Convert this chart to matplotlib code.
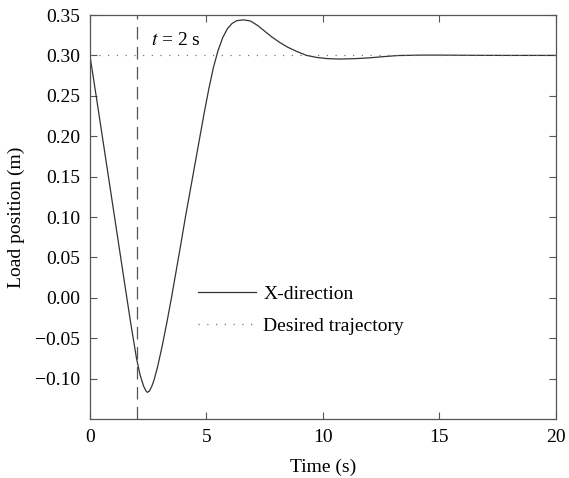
"""Load position response vs. time, redrawn from a reference figure."""

import matplotlib
matplotlib.use("Agg")
import matplotlib.pyplot as plt
from matplotlib.ticker import FuncFormatter

# values
time_s = [0.0, 0.3, 0.6, 0.9, 1.2, 1.5, 1.75, 2.0, 2.15, 2.3, 2.4, 2.47,
          2.55, 2.65, 2.75, 2.9, 3.1, 3.3, 3.5, 3.7, 3.9, 4.1, 4.3, 4.5,
          4.7, 4.9, 5.1, 5.3, 5.5, 5.7, 5.9, 6.1, 6.3, 6.6, 6.9, 7.2, 7.5,
          7.8, 8.15, 8.5, 8.87, 9.3, 9.73, 10.2, 10.73, 11.4, 12.0, 12.6,
          13.2, 14.0, 14.6, 15.5, 16.5, 18.0, 20.0]
x_pos = [0.300, 0.244, 0.187, 0.130, 0.073, 0.016, -0.031, -0.075, -0.095,
         -0.109, -0.115, -0.117, -0.1155, -0.110, -0.102, -0.086, -0.060,
         -0.031, 0.000, 0.033, 0.066, 0.100, 0.132, 0.164, 0.196, 0.228,
         0.258, 0.285, 0.306, 0.322, 0.333, 0.3395, 0.343, 0.344, 0.3425,
         0.337, 0.330, 0.323, 0.316, 0.310, 0.305, 0.300, 0.2975, 0.296,
         0.2955, 0.296, 0.297, 0.2985, 0.2998, 0.3003, 0.3004, 0.3003,
         0.3001, 0.3000, 0.3000]
desired = 0.30
t_mark = 2.0

x_ticks = [0, 5, 10, 15, 20]
y_ticks = [-0.10, -0.05, 0.00, 0.05, 0.10, 0.15, 0.20, 0.25, 0.30, 0.35]

plt.rcParams["font.family"] = ["Liberation Serif", "DejaVu Serif"]
plt.rcParams["mathtext.fontset"] = "stix"
fs = 14
frame = "#555555"

fig = plt.figure(figsize=(5.69, 4.78), dpi=100)
ax = fig.add_axes([0.158, 0.1234, 0.819, 0.8452])

ax.plot(time_s, x_pos, color="#333333", lw=0.9, label="X-direction")
ax.axhline(desired, color="#777777", lw=0.9, ls=(0, (1, 6)),
           label="Desired trajectory")
ax.axvline(t_mark, color="#555555", lw=0.9, ls=(0, (10, 6)))
ax.text(2.62, 0.313, "$t$ = 2 s", fontsize=fs, ha="left", va="baseline")

ax.set_xlim(0, 20)
ax.set_ylim(-0.15, 0.35)
ax.set_xticks(x_ticks)
ax.set_yticks(y_ticks)
ax.yaxis.set_major_formatter(
    FuncFormatter(lambda v, p: f"{v:.2f}".replace("-", "\u2212")))
ax.tick_params(direction="in", length=5, width=0.8, color=frame,
               top=True, right=True, labelsize=fs, pad=7)
for s in ax.spines.values():
    s.set_color(frame)
    s.set_linewidth(0.9)

ax.set_xlabel("Time (s)", fontsize=fs, labelpad=9)
ax.set_ylabel("Load position (m)", fontsize=fs, labelpad=7)

ax.legend(loc="upper left", bbox_to_anchor=(0.232, 0.33), frameon=False,
          fontsize=fs, handlelength=3.0, handletextpad=0.35,
          borderpad=0, borderaxespad=0, labelspacing=0.7)

fig.savefig("out.png", dpi=100)
